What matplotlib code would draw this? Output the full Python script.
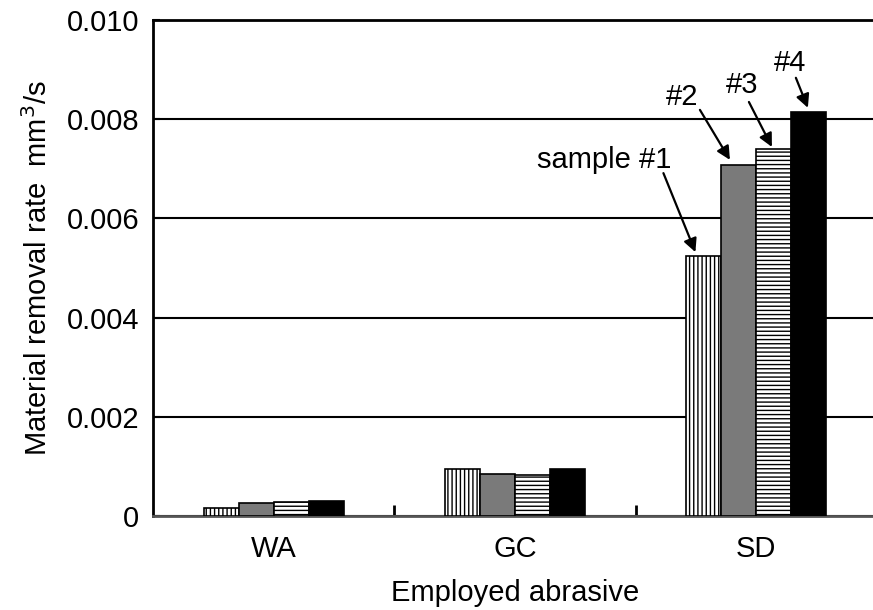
import matplotlib.pyplot as plt
import numpy as np

plt.rcParams['font.family'] = ['Liberation Sans', 'DejaVu Sans']
plt.rcParams['hatch.linewidth'] = 1.0

abrasives = ['WA', 'GC', 'SD']
sample1 = [0.00017, 0.00095, 0.00524]
sample2 = [0.00026, 0.00084, 0.00708]
sample3 = [0.00029, 0.00083, 0.00739]
sample4 = [0.00031, 0.00095, 0.00815]
labels = ['sample #1', '#2', '#3', '#4']

fs = 21

fig = plt.figure(figsize=(8.73, 6.10), dpi=100)
ax = fig.add_axes([0.1753, 0.1541, 0.8293, 0.8131])

x = np.arange(len(abrasives))
w = 0.145
series = [sample1, sample2, sample3, sample4]
faces = ['white', '#7a7a7a', 'white', 'black']
hatches = ['||||', None, '----', None]
for i, vals in enumerate(series):
    ax.bar(x + (i - 1.5) * w, vals, w, color=faces[i], hatch=hatches[i],
           edgecolor='black', linewidth=1.2, zorder=3)

ax.set_xlim(-0.5, 2.5)
ax.set_ylim(0, 0.010)
ax.set_yticks([0, 0.002, 0.004, 0.006, 0.008, 0.010])
ax.set_yticklabels(['0', '0.002', '0.004', '0.006', '0.008', '0.010'])
ax.yaxis.grid(True, color='black', linewidth=1.5, zorder=0)
ax.set_axisbelow(True)

ax.set_xticks(x)
ax.set_xticklabels(abrasives)
ax.set_xticks([0.5, 1.5], minor=True)
ax.tick_params(axis='x', which='major', length=0, pad=14, labelsize=fs)
ax.tick_params(axis='x', which='minor', direction='in', length=8, width=2)
ax.tick_params(axis='y', direction='in', length=5, width=1.5, labelsize=fs, pad=10)

for s in ['left', 'top', 'bottom']:
    ax.spines[s].set_linewidth(2)
ax.spines['bottom'].set_color('#555555')
ax.spines['right'].set_visible(False)

ax.set_xlabel('Employed abrasive', fontsize=fs, labelpad=11)
ax.set_ylabel('Material removal rate  mm$^3$/s', fontsize=fs, labelpad=10)

# arrows to SD bars
tips_dx = [-0.035, -0.037, -0.008, -0.004]
tips_dy = [0.00008, 0.0001, 0.00005, 0.00008]
starts = [(-32, 79), (-30, 50), (-23, 45), (-12, 30)]
text_off = [(-91, 92), (-48, 63), (-30, 62), (-18, 45)]
for i, vals in enumerate(series):
    tip = (2 + (i - 1.5) * w + tips_dx[i], vals[2] + tips_dy[i])
    ax.annotate('', xy=tip, xytext=starts[i], textcoords='offset pixels',
                arrowprops=dict(arrowstyle='-|>', color='black', lw=1.6,
                                mutation_scale=20, shrinkA=0, shrinkB=0))
    ax.annotate(labels[i], xy=tip, xytext=text_off[i], textcoords='offset pixels',
                ha='center', va='center', fontsize=fs)

fig.savefig('out.png', dpi=100)
